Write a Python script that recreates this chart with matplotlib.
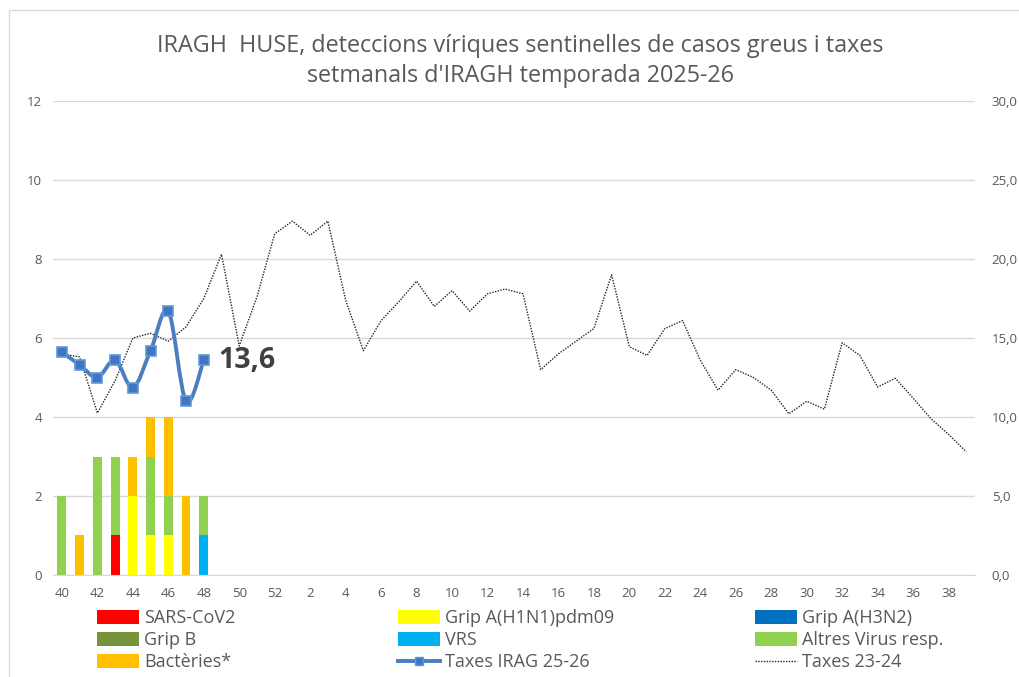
import matplotlib
matplotlib.use('Agg')
import matplotlib.pyplot as plt
from matplotlib.patches import Patch, Rectangle, PathPatch
from matplotlib.lines import Line2D
from matplotlib.path import Path
import numpy as np

plt.rcParams['font.family'] = ['Open Sans', 'DejaVu Sans']

# week numbers of the season (40..52, 1..39)
weeks = list(range(40, 53)) + list(range(1, 40))

# detections per week (season 2025-26), weeks 40..48
sars_cov2 = [0, 0, 0, 1, 0, 0, 0, 0, 0]
grip_h1n1 = [0, 0, 0, 0, 2, 1, 1, 0, 0]
grip_h3n2 = [0, 0, 0, 0, 0, 0, 0, 0, 0]
grip_b = [0, 0, 0, 0, 0, 0, 0, 0, 0]
vrs = [0, 0, 0, 0, 0, 0, 0, 0, 1]
altres_virus = [2, 0, 3, 2, 0, 2, 1, 0, 1]
bacteries = [0, 1, 0, 0, 1, 1, 2, 2, 0]

# rates (right axis)
taxes_2526 = [14.1, 13.3, 12.5, 13.6, 11.85, 14.2, 16.7, 11.0, 13.6]
taxes_2324 = [14.0, 13.8, 10.25, 12.3, 15.0, 15.3, 14.8, 15.7, 17.5, 20.3,
              14.5, 17.6, 21.6, 22.4, 21.5, 22.4, 17.4, 14.2, 16.1, 17.3,
              18.6, 17.0, 18.0, 16.7, 17.8, 18.1, 17.8, 13.0, 14.0, 14.8,
              15.6, 19.0, 14.45, 13.9, 15.6, 16.1, 13.6, 11.7, 13.0, 12.5,
              11.7, 10.2, 11.0, 10.5, 14.7, 13.9, 11.9, 12.45, 11.2, 9.9,
              8.9, 7.8]

series = [
    ('SARS-CoV2', sars_cov2, '#FF0000'),
    ('Grip A(H1N1)pdm09', grip_h1n1, '#FFFF00'),
    ('Grip A(H3N2)', grip_h3n2, '#0070C0'),
    ('Grip B', grip_b, '#77933C'),
    ('VRS', vrs, '#00B0F0'),
    ('Altres Virus resp.', altres_virus, '#92D050'),
    ('Bactèries*', bacteries, '#FFC000'),
]

grey = '#595959'

fig = plt.figure(figsize=(10.2, 6.77), dpi=100)
ax = fig.add_axes([0.052, 0.1507, 0.904, 0.700])
ax2 = ax.twinx()

x = np.arange(len(weeks))
xb = np.arange(len(sars_cov2))
bottom = np.zeros(len(xb))
for name, vals, col in series:
    vals = np.array(vals, dtype=float)
    ax.bar(xb, vals, 0.5, bottom=bottom, color=col, zorder=2)
    bottom += vals

ax.set_xlim(-0.5, len(weeks) - 0.5)
ax.set_ylim(0, 12)
ax.set_yticks(range(0, 13, 2))
ax.grid(axis='y', color='#D9D9D9', lw=1, zorder=0)
ax.set_axisbelow(True)
ax.set_xticks(x[::2])
ax.set_xticklabels([str(w) for w in weeks[::2]])
for s in ['top', 'left', 'right']:
    ax.spines[s].set_visible(False)
    ax2.spines[s].set_visible(False)
ax.spines['bottom'].set_color('#D9D9D9')
ax2.spines['bottom'].set_visible(False)
ax.tick_params(axis='both', length=0, colors=grey, labelsize=9.5)
ax.tick_params(axis='x', pad=9)
ax.tick_params(axis='y', pad=8)

ax2.set_ylim(0, 30)
ax2.set_yticks(range(0, 31, 5))
ax2.set_yticklabels([f'{v:.1f}'.replace('.', ',') for v in range(0, 31, 5)])
ax2.tick_params(axis='y', length=0, colors=grey, labelsize=9.5, pad=12)

# last season, dotted
ax2.plot(x, taxes_2324, color='#262626', lw=1.0, ls=(0, (1, 1)), zorder=3)

# current season, smoothed line (Bezier through the points)
px = np.arange(len(taxes_2526), dtype=float)
py = np.array(taxes_2526)
verts = [(px[0], py[0])]
codes = [Path.MOVETO]
n = len(px)
for i in range(n - 1):
    p0 = (px[max(i - 1, 0)], py[max(i - 1, 0)])
    p1 = (px[i], py[i])
    p2 = (px[i + 1], py[i + 1])
    p3 = (px[min(i + 2, n - 1)], py[min(i + 2, n - 1)])
    c1 = (p1[0] + (p2[0] - p0[0]) / 6, p1[1] + (p2[1] - p0[1]) / 6)
    c2 = (p2[0] - (p3[0] - p1[0]) / 6, p2[1] - (p3[1] - p1[1]) / 6)
    verts += [c1, c2, p2]
    codes += [Path.CURVE4] * 3
ax2.add_patch(PathPatch(Path(verts, codes), fill=False, edgecolor='#4A7EC0',
                        lw=2.8, zorder=4, capstyle='round'))
ax2.plot(px, py, ls='none', marker='s', ms=6.5, mfc='#4472C4',
         mec='#5B9BD5', mew=1.2, zorder=5)
ax2.text(px[-1] + 0.8, py[-1], f'{taxes_2526[-1]:.1f}'.replace('.', ','),
         fontsize=20.5, fontweight='bold', color='#404040', va='center', ha='left')

fig.text(0.51, 0.910, "IRAGH  HUSE, deteccions víriques sentinelles de casos greus i taxes\n"
         "setmanals d'IRAGH temporada 2025-26", ha='center', va='center',
         fontsize=16.8, color=grey, linespacing=1.3)

# legend in three columns
handles = [Patch(facecolor=c) for _, _, c in series]
names = [nm for nm, _, _ in series]
handles += [Line2D([], [], color='#4A7EC0', lw=2.8, marker='s', ms=6,
                   mfc='#4472C4', mec='#5B9BD5'),
            Line2D([], [], color='#262626', lw=1.0, ls=(0, (1, 1)))]
names += ['Taxes IRAG 25-26', 'Taxes 23-24']
col_x = [0.095, 0.390, 0.740]
for c in range(3):
    idx = [c, c + 3, c + 6]
    leg = fig.legend([handles[i] for i in idx], [names[i] for i in idx],
                     loc='upper left', bbox_to_anchor=(col_x[c], 0.100),
                     frameon=False, fontsize=13.0, handlelength=2.35,
                     handleheight=0.75, handletextpad=0.25, labelspacing=0.22,
                     borderaxespad=0, borderpad=0)
    for t in leg.get_texts():
        t.set_color(grey)

fig.add_artist(Rectangle((9 / 1020, -0.1), 1.2, 1.1 - 10 / 677,
                         transform=fig.transFigure, fill=False,
                         edgecolor='#D9D9D9', lw=1))

fig.savefig('out.png', dpi=100)
